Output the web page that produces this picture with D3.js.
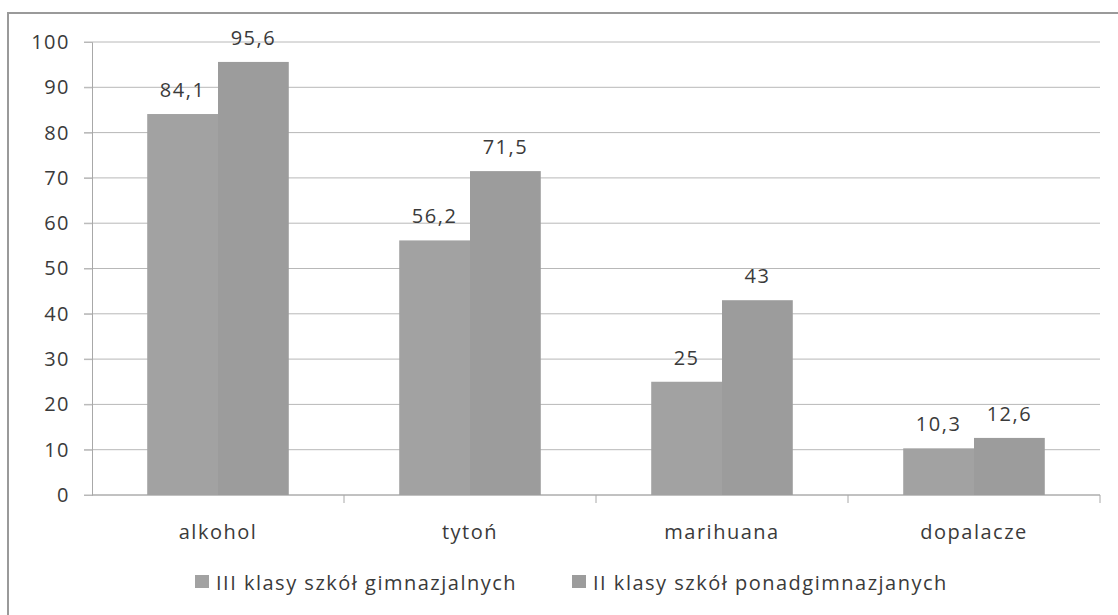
<!DOCTYPE html>
<html>
<head>
<meta charset="utf-8">
<script src="https://cdn.jsdelivr.net/npm/d3@7"></script>
<style>
  body { margin: 0; background: #fff; }
  text { font-family: "Open Sans", Lato, sans-serif; fill: #3a3a3a; letter-spacing: 1.5px; }
</style>
</head>
<body>
<svg id="chart" width="1118" height="615"></svg>
<script>
const categories = ["alkohol", "tytoń", "marihuana", "dopalacze"]
const seriesNames = ["III klasy szkół gimnazjalnych", "II klasy szkół ponadgimnazjanych"]
const gimnazjum = [84.1, 56.2, 25, 10.3]
const ponadgim = [95.6, 71.5, 43, 12.6]
const yTicks = [0, 10, 20, 30, 40, 50, 60, 70, 80, 90, 100]

const barColors = ["#a2a2a2", "#9c9c9c"]
const fmt = v => String(v).replace(".", ",")
const fontSize = "20px"

const margin = { top: 42, left: 92, right: 18, bottom: 120 }
const width = 1118, height = 615
const svg = d3.select("#chart")

// outer frame
svg.append("rect")
  .attr("x", 8).attr("y", 13)
  .attr("width", 1130).attr("height", 640)
  .attr("fill", "none")
  .attr("stroke", "#9a9a9a")
  .attr("stroke-width", 2)

let x0 = d3.scaleBand()
  .domain(categories)
  .range([margin.left, width - margin.right])

let x1 = d3.scaleBand()
  .domain([0, 1])
  .range([0, x0.bandwidth()])
  .paddingOuter(0.78)
  .paddingInner(0)

let y = d3.scaleLinear()
  .domain([0, 100])
  .range([height - margin.bottom, margin.top])

// gridlines
svg.append("g")
  .selectAll("line")
  .data(yTicks)
  .enter().append("line")
  .attr("x1", margin.left - 8)
  .attr("x2", width - margin.right)
  .attr("y1", d => y(d))
  .attr("y2", d => y(d))
  .attr("stroke", "#b8b8b8")
  .attr("stroke-width", 1)

// y axis
let yAxis = svg.append("g")
  .attr("transform", `translate(${margin.left},0)`)
  .call(d3.axisLeft(y).tickValues(yTicks).tickSize(8).tickPadding(14))
yAxis.select(".domain").attr("stroke", "#a8a8a8")
yAxis.selectAll(".tick line").attr("stroke", "#b8b8b8")
yAxis.selectAll("text").style("font-size", fontSize).attr("fill", "#3a3a3a")
  .style("font-family", "\"Open Sans\", sans-serif")

// x axis
let xAxisG = svg.append("g")
  .attr("transform", `translate(0,${y(0)})`)
xAxisG.append("line")
  .attr("x1", margin.left).attr("x2", width - margin.right)
  .attr("stroke", "#a8a8a8")
xAxisG.selectAll(".sep")
  .data(categories)
  .enter().append("line")
  .attr("x1", d => x0(d) + x0.bandwidth())
  .attr("x2", d => x0(d) + x0.bandwidth())
  .attr("y1", 0).attr("y2", 8)
  .attr("stroke", "#a8a8a8")
xAxisG.selectAll("text")
  .data(categories)
  .enter().append("text")
  .attr("x", d => x0(d) + x0.bandwidth() / 2)
  .attr("y", 44)
  .attr("text-anchor", "middle")
  .style("font-size", fontSize)
  .text(d => d)

// bars
let rows = categories.map((c, i) => ({ cat: c, values: [gimnazjum[i], ponadgim[i]] }))
let groups = svg.selectAll(".grp")
  .data(rows)
  .enter().append("g")
  .attr("transform", d => `translate(${x0(d.cat)},0)`)

groups.selectAll("rect")
  .data(d => d.values.map((v, s) => ({ v, s })))
  .enter().append("rect")
  .attr("x", d => x1(d.s))
  .attr("width", x1.bandwidth())
  .attr("y", d => y(d.v))
  .attr("height", d => y(0) - y(d.v))
  .attr("fill", d => barColors[d.s])

groups.selectAll(".val")
  .data(d => d.values.map((v, s) => ({ v, s })))
  .enter().append("text")
  .attr("x", d => x1(d.s) + x1.bandwidth() / 2)
  .attr("y", d => y(d.v) - 17)
  .attr("text-anchor", "middle")
  .style("font-size", fontSize)
  .text(d => fmt(d.v))

// legend
let legendPos = [195, 572]
let legend = svg.selectAll(".leg")
  .data(seriesNames)
  .enter().append("g")
  .attr("transform", (d, i) => `translate(${legendPos[i]},582)`)
legend.append("rect")
  .attr("x", 0).attr("y", -7)
  .attr("width", 14).attr("height", 13)
  .attr("fill", (d, i) => barColors[i])
legend.append("text")
  .attr("x", 21).attr("y", 8)
  .style("font-size", fontSize)
  .text(d => d)
</script>
</body>
</html>
